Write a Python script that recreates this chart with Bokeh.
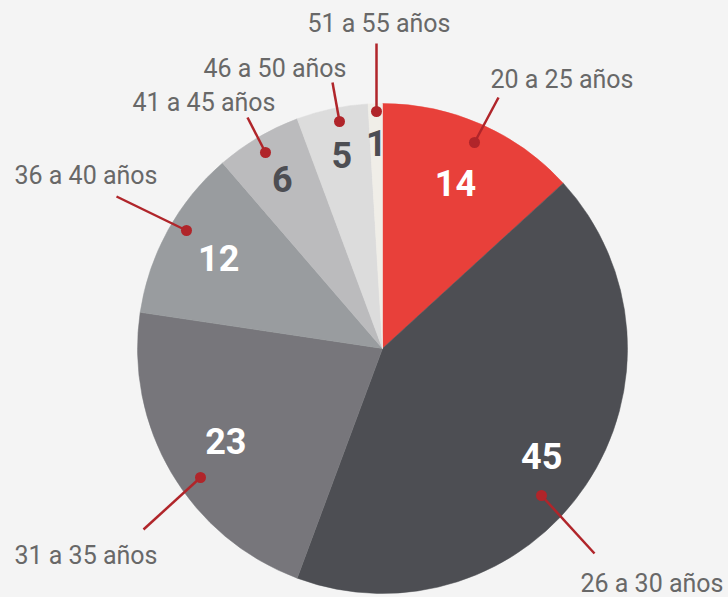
import math
from bokeh.plotting import figure
from bokeh.models import Range1d, ColumnDataSource
from bokeh.core.properties import value
from bokeh.embed import file_html
from bokeh.resources import INLINE

# ---- data ----
categories = ["20 a 25 años", "26 a 30 años", "31 a 35 años", "36 a 40 años",
              "41 a 45 años", "46 a 50 años", "51 a 55 años"]
counts = [14, 45, 23, 12, 6, 5, 1]
colors = ["#E8403A", "#4D4E53", "#77767B", "#999C9F", "#BBBBBD", "#DCDCDC", "#F0EEE8"]
num_colors = ["white", "white", "white", "white", "#4D4E53", "#4D4E53", "#4D4E53"]

# ---- layout constants (reference pixel coords, y downward) ----
W, H = 728, 597
CX, CY, R = 382, 348, 245
num_r = [181, 192, 182, 187, 197, 198, 206]
dots = [(474, 142), (541, 495), (200, 477), (186, 230), (265, 152), (339, 121), (376, 111)]
ends = [(498, 97), (594, 553), (143, 529), (116, 196), (247, 117), (332, 82), (376, 43)]
lab_pos = [(490, 79), (580, 583), (14, 555), (14, 175), (132, 102), (203, 68), (307, 23)]

def Y(py):
    return H - py

p = figure(width=W, height=H, output_backend="svg", toolbar_location=None,
           x_range=Range1d(0, W), y_range=Range1d(0, H),
           min_border=0, background_fill_color="#F4F4F4", border_fill_color="#F4F4F4")
p.axis.visible = False
p.grid.visible = False
p.outline_line_color = None

total = sum(counts)
starts, stops, mids = [], [], []
acc = 0.0
for c in counts:
    a0 = math.pi / 2 - acc / total * 2 * math.pi
    acc += c
    a1 = math.pi / 2 - acc / total * 2 * math.pi
    starts.append(a0)
    stops.append(a1)
    mids.append((a0 + a1) / 2)

src = ColumnDataSource(dict(x=[CX] * len(counts), y=[Y(CY)] * len(counts),
                            start=starts, end=stops, color=colors))
p.wedge(x="x", y="y", radius=R, start_angle="start", end_angle="end",
        direction="clock", fill_color="color", line_color="color", line_width=0.5,
        source=src)

# number labels
nx = [CX + r * math.cos(m) for r, m in zip(num_r, mids)]
ny = [Y(CY) + r * math.sin(m) for r, m in zip(num_r, mids)]
p.text(x=nx, y=ny, text=[str(c) for c in counts], text_color=num_colors,
       text_font=value("Roboto"), text_font_style="bold", text_font_size="36px",
       text_align="center", text_baseline="middle")

# leader lines
red = "#B0252A"
for (dx, dy), (ex, ey) in zip(dots, ends):
    p.line([dx, ex], [Y(dy), Y(ey)], line_color=red, line_width=2.5)
p.scatter([d[0] for d in dots], [Y(d[1]) for d in dots], size=11,
          fill_color=red, line_color=None)

# category labels
p.text(x=[l[0] for l in lab_pos], y=[Y(l[1]) for l in lab_pos], text=categories,
       text_color="#686868", text_font=value("Roboto"), text_font_size="25px",
       text_align="left", text_baseline="middle")

html = file_html(p, INLINE)
html = html.replace("<head>", "<head><style>html,body{margin:0;padding:0;background:#F4F4F4;overflow:hidden;}</style>", 1)
open("out.html", "w").write(html)
